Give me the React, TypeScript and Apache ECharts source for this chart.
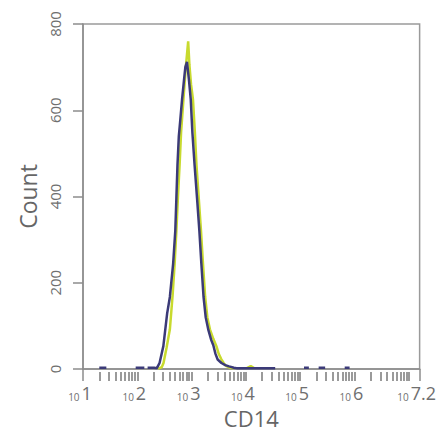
import React, { useEffect, useRef } from "react";
import * as echarts from "echarts";

// x values are log10 of CD14 fluorescence (decades); null marks a gap
const navyX = [1.30, 1.43, 1.44, 1.97, 2.13, 2.16, 2.19, 2.31, 2.36, 2.41, 2.48, 2.55, 2.60, 2.66, 2.70, 2.72, 2.74, 2.765, 2.79, 2.825, 2.86, 2.885, 2.915, 2.95, 2.984, 3.014, 3.055, 3.10, 3.143, 3.18, 3.22, 3.26, 3.31, 3.36, 3.40, 3.44, 3.48, 3.55, 3.62, 3.69, 3.78, 3.83, 4.54, 4.6, 5.07, 5.16, 5.2, 5.34, 5.46, 5.5, 5.82, 5.91];
const navyY = [3, 3, null, 3, 3, null, 3, 3, 2, 14, 53, 129, 167, 244, 321, 397, 473, 540, 575, 626, 670, 700, 712, 672, 626, 550, 473, 397, 321, 244, 167, 120, 90, 68, 55, 35, 22, 14, 9, 6, 3, 2, 2, null, 3, 3, null, 3, 3, null, 3, 3];

const limeX = [2.38, 2.45, 2.483, 2.54, 2.60, 2.65, 2.688, 2.72, 2.748, 2.78, 2.807, 2.85, 2.895, 2.937, 2.96, 2.99, 3.025, 3.06, 3.09, 3.13, 3.173, 3.21, 3.25, 3.29, 3.338, 3.40, 3.457, 3.50, 3.546, 3.59, 3.634, 3.70, 3.78, 3.9, 4.02, 4.09, 4.15];
const limeY = [1, 4, 14, 50, 92, 170, 244, 320, 397, 475, 550, 625, 702, 760, 705, 660, 626, 550, 473, 400, 321, 244, 167, 120, 92, 70, 53, 35, 23, 14, 7, 3, 2, null, 2, 7, 2];

const yTicks = [0, 200, 400, 600, 800];
const xLabelValues = [1, 2, 3, 4, 5, 6, 7.2];
const xEndTicks = [1, 7.2];
const decades = [1, 2, 3, 4, 5, 6, 7];
const multipliers = [1, 2, 3, 4, 5, 6, 7, 8, 9];

export default function App() {
  const ref = useRef<HTMLDivElement>(null);
  useEffect(() => {
    if (!ref.current) return;
    const chart = echarts.init(ref.current, null, { renderer: "svg" });
    const minorTicks: number[] = [];
    decades.forEach((d) => {
      multipliers.forEach((m) => {
        const v = d + Math.log10(m);
        if (v > 1.001 && v <= 7.2) minorTicks.push(v);
      });
    });
    const toData = (xs: number[], ys: (number | null)[]) =>
      xs.map((x, i) => [x, ys[i] === null ? "-" : ys[i]]);
    const axisColor = "#8c8c8c";
    const textColor = "#6f6f6f";
    const font = "Open Sans";
    chart.setOption({
      animation: false,
      grid: {
        left: 83,
        right: 12,
        top: 24,
        bottom: 61,
        show: true,
        borderColor: "#9a9a9a",
        borderWidth: 1.5,
      },
      xAxis: [
        {
          type: "value",
          min: 1,
          max: 7.2,
          position: "bottom",
          axisLine: { show: true, lineStyle: { color: axisColor, width: 1.5 } },
          axisTick: {
            show: true,
            customValues: xEndTicks,
            length: 12,
            lineStyle: { color: axisColor, width: 1.5 },
          },
          splitLine: { show: false },
          axisLabel: {
            customValues: xLabelValues,
            margin: 15,
            formatter: (v: number) => {
              const e = Math.abs(v - Math.round(v)) < 1e-6 ? String(Math.round(v)) : v.toFixed(1);
              return `{s|10}{e|${e}}`;
            },
            rich: {
              s: { fontSize: 10, lineHeight: 18, color: textColor, fontFamily: font, verticalAlign: "bottom", padding: [0, 2, 0, 0] },
              e: { fontSize: 18, lineHeight: 18, color: textColor, fontFamily: font, verticalAlign: "bottom", padding: [0, 6, 0, 0] },
            },
          },
          name: "CD14",
          nameLocation: "middle",
          nameGap: 38,
          nameTextStyle: { fontSize: 22, color: "#666", fontFamily: font },
        },
        {
          type: "value",
          min: 1,
          max: 7.2,
          position: "bottom",
          offset: 3,
          axisLine: { show: false },
          axisTick: {
            show: true,
            customValues: minorTicks,
            length: 9,
            lineStyle: { color: "#9a9a9a", width: 2 },
          },
          axisLabel: { show: false },
          splitLine: { show: false },
        },
      ],
      yAxis: {
        type: "value",
        min: 0,
        max: 800,
        interval: 200,
        axisLine: { show: true, lineStyle: { color: axisColor, width: 1.5 } },
        axisTick: { show: true, length: 10, lineStyle: { color: axisColor, width: 1.5 } },
        splitLine: { show: false },
        axisLabel: {
          rotate: 90,
          margin: 21,
          fontSize: 15,
          color: textColor,
          fontFamily: font,
          customValues: yTicks,
        },
        name: "Count",
        nameLocation: "middle",
        nameRotate: 90,
        nameGap: 43,
        nameTextStyle: { fontSize: 23, color: "#666", fontFamily: font },
      },
      series: [
        {
          type: "line",
          xAxisIndex: 0,
          data: toData(limeX, limeY),
          showSymbol: false,
          connectNulls: false,
          lineStyle: { color: "#c8da2e", width: 2.5 },
          itemStyle: { color: "#c8da2e" },
        },
        {
          type: "line",
          xAxisIndex: 0,
          data: toData(navyX, navyY),
          showSymbol: false,
          connectNulls: false,
          lineStyle: { color: "#3b3a78", width: 2.5 },
          itemStyle: { color: "#3b3a78" },
        },
      ],
    });
    return () => chart.dispose();
  }, []);
  return (
    <div
      ref={ref}
      style={{ position: "fixed", left: 0, top: 0, width: 445, height: 434, background: "#fff" }}
    />
  );
}
